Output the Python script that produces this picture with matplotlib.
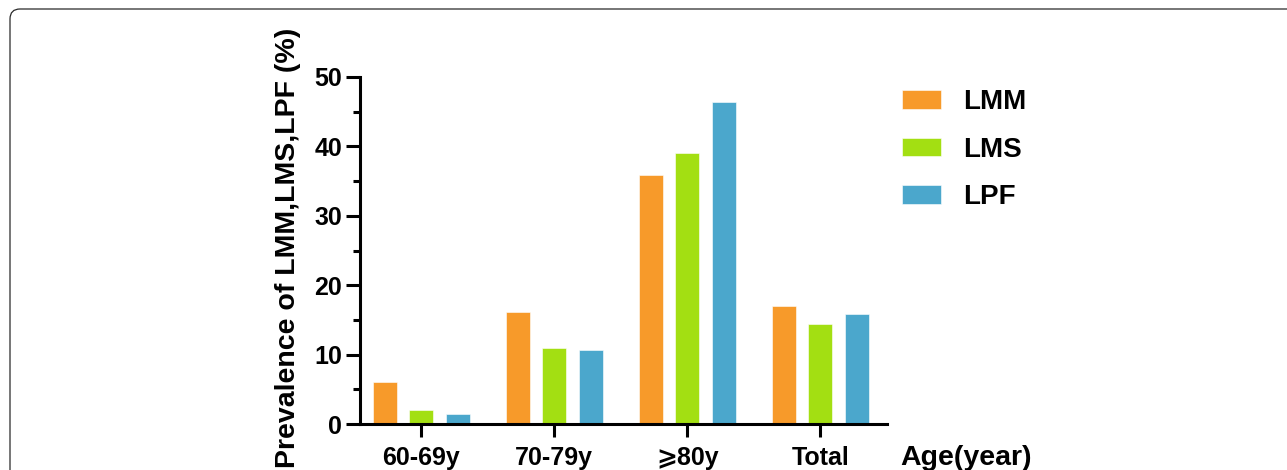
import matplotlib
matplotlib.use("Agg")
import matplotlib.pyplot as plt
from matplotlib.patches import FancyBboxPatch
from matplotlib.ticker import MultipleLocator
import numpy as np

# Prevalence (%) by age group
groups = ["60-69y", "70-79y", "⩾80y", "Total"]
series_names = ["LMM", "LMS", "LPF"]
lmm = [6.0, 16.1, 35.9, 17.0]
lms = [2.0, 11.0, 39.0, 14.4]
lpf = [1.5, 10.7, 46.4, 15.8]
colors = ["#F79A2A", "#A3DF12", "#4BA7CC"]

plt.rcParams["font.family"] = ["Liberation Sans", "DejaVu Sans"]
plt.rcParams["font.weight"] = "bold"

fig = plt.figure(figsize=(12.87, 4.70), dpi=100)
ax = fig.add_axes([360 / 1287, 1 - 424 / 470, (887 - 360) / 1287, (424 - 77) / 470])

x = np.arange(len(groups))
width = 0.18
step = 0.275
handles = []
for i, (vals, name) in enumerate(zip([lmm, lms, lpf], series_names)):
    b = ax.bar(x + (i - 1) * step, vals, width, color=colors[i], label=name,
               edgecolor="white", linewidth=0.4)
    handles.append(b)

ax.set_xlim(-0.46, 3.5)
ax.set_ylim(0, 50)
ax.yaxis.set_major_locator(MultipleLocator(10))
ax.yaxis.set_minor_locator(MultipleLocator(5))
ax.set_xticks(x)
ax.set_xticklabels(groups, fontsize=18, fontweight="bold")
for lbl in ax.get_yticklabels():
    lbl.set_fontsize(18)
    lbl.set_fontweight("bold")

for s in ["top", "right"]:
    ax.spines[s].set_visible(False)
for s in ["left", "bottom"]:
    ax.spines[s].set_linewidth(2.2)

ax.tick_params(axis="y", which="major", direction="out", length=10, width=2.2, pad=3,
               labelsize=18)
ax.tick_params(axis="y", which="minor", direction="out", length=5, width=2.2)
ax.tick_params(axis="x", which="major", direction="out", length=9.5, width=2.2, pad=6.5,
               labelsize=18)

fig.text(288 / 1287, 1 - 248 / 470, "Prevalence of LMM,LMS,LPF (%)", rotation=90,
         ha="center", va="center", fontsize=20.5, fontweight="bold")

fig.text(900 / 1287, 1 - 465 / 470, "Age(year)", ha="left", va="baseline",
         fontsize=20.5, fontweight="bold")

ax.legend(handles=handles, labels=series_names, loc="upper left",
          bbox_to_anchor=(902 / 1287, 1 - 89 / 470), bbox_transform=fig.transFigure,
          frameon=False, prop={"weight": "bold", "size": 20},
          handlelength=1.4, handleheight=0.66, handletextpad=0.8,
          labelspacing=0.78, borderpad=0, borderaxespad=0)

# rounded outer frame
frame = FancyBboxPatch((0.10, -0.5), 13.5, 4.70 - 0.09 + 0.5,
                       boxstyle="round,pad=0,rounding_size=0.1",
                       transform=fig.dpi_scale_trans, fill=False,
                       edgecolor="#2a2a2a", linewidth=0.9, clip_on=False)
fig.patches.append(frame)

fig.savefig("out.png", dpi=100)
